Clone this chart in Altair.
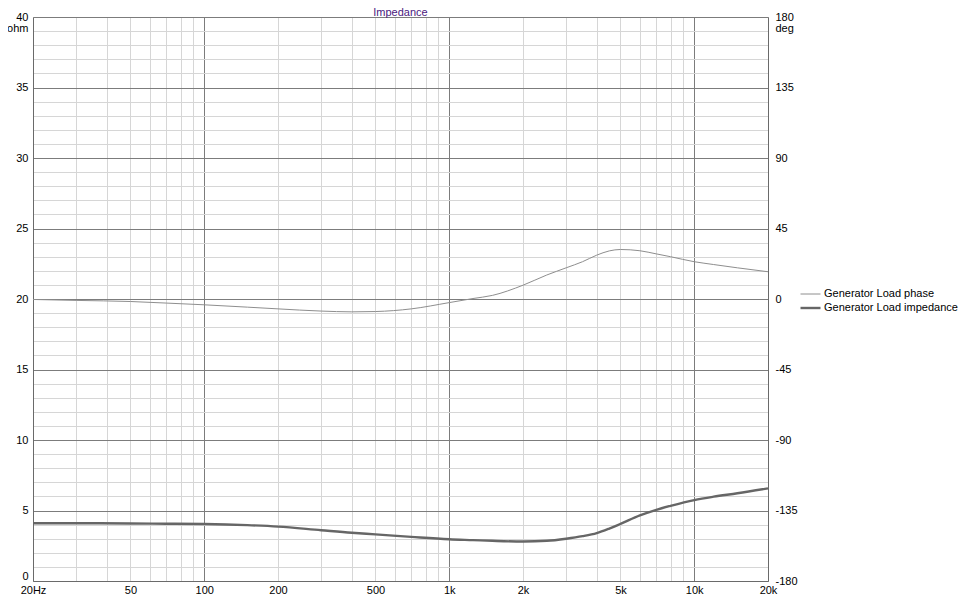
import altair as alt
import pandas as pd

# ---------------- data ----------------
freq = [20, 30, 50, 70, 100, 150, 200, 300, 400, 500, 700, 1000, 1250, 1500, 2000,
        2500, 3000, 3500, 4000, 4500, 5000, 6000, 7000, 8000, 10000, 12000, 15000, 20000]
impedance = [4.10, 4.10, 4.08, 4.06, 4.04, 3.96, 3.86, 3.60, 3.42, 3.31, 3.13, 2.96, 2.90, 2.85, 2.80,
             2.85, 3.00, 3.18, 3.40, 3.72, 4.05, 4.65, 5.05, 5.33, 5.74, 5.98, 6.22, 6.57]
phase = [-0.3, -0.9, -1.6, -2.6, -3.7, -5.2, -6.3, -7.7, -8.2, -8.0, -6.3, -2.3, 0.3, 2.3, 8.8,
         15.3, 19.9, 23.8, 28.0, 30.7, 31.6, 30.8, 28.8, 27.0, 23.8, 22.0, 19.9, 17.4]

series_names = ["Generator Load phase", "Generator Load impedance"]
series_colors = ["#8e8e8e", "#666666"]
series_widths = [1.0, 2.4]

x_grid_values = [20, 30, 40, 50, 60, 70, 80, 90,
                 100, 200, 300, 400, 500, 600, 700, 800, 900,
                 1000, 2000, 3000, 4000, 5000, 6000, 7000, 8000, 9000,
                 10000, 20000]
x_major = [100, 1000, 10000]
x_label_values = [20, 50, 100, 200, 500, 1000, 2000, 5000, 10000, 20000]
x_label_texts = ["20Hz", "50", "100", "200", "500", "1k", "2k", "5k", "10k", "20k"]
ohm_values = list(range(0, 41))
deg_values = [-180, -135, -90, -45, 0, 45, 90, 135, 180]

# ---------------- build chart ----------------
FONT = "Liberation Sans"
FRAME = "#6a6a6a"
MAJOR = "#7c7c7c"
MINOR = "#d6d6d6"

label_expr = " : ".join(
    f"datum.value == {v} ? '{t}'" for v, t in zip(x_label_values, x_label_texts)
) + " : ''"
major_test = "indexof([" + ",".join(str(v) for v in x_major) + "], datum.value) >= 0"

x_axis = alt.Axis(
    values=x_grid_values, labelExpr=label_expr, labelOverlap=False, title=None,
    grid=True, gridColor={"condition": {"test": major_test, "value": MAJOR}, "value": MINOR},
    ticks=False, domainColor=FRAME, labelPadding=3, labelFont=FONT, labelFontSize=11,
    labelColor="#000000", labelFlush=False,
)
x_enc = alt.X("freq:Q", scale=alt.Scale(type="log", domain=[20, 20000], nice=False), axis=x_axis)

legend = alt.Legend(
    title=None, orient="none", legendX=766, legendY=271, symbolType="stroke",
    symbolSize=400, labelFont=FONT, labelFontSize=11, labelColor="#000000",
    clipHeight=12, rowPadding=2, labelOffset=2, padding=0, symbolOpacity=1,
)
color_enc = alt.Color("series:N", scale=alt.Scale(domain=series_names, range=series_colors), legend=legend)
sw_enc = alt.StrokeWidth("series:N", scale=alt.Scale(type="ordinal", domain=series_names, range=series_widths), legend=legend)

imp_df = pd.DataFrame({"freq": freq, "value": impedance, "series": series_names[1]})
ph_df = pd.DataFrame({"freq": freq, "value": phase, "series": series_names[0]})

ohm_axis = alt.Axis(
    orient="left", values=ohm_values,
    labelExpr="datum.value % 5 == 0 ? datum.label : ''",
    grid=True, gridColor={"condition": {"test": "datum.value % 5 == 0", "value": MAJOR}, "value": MINOR},
    ticks=False, domainColor=FRAME, labelPadding=5, labelFont=FONT, labelFontSize=11,
    labelColor="#000000", labelOverlap=False,
    labelBaseline={"condition": {"test": "datum.value == 0", "value": "bottom"}, "value": "middle"},
    title="ohm", titleAngle=0, titleAlign="right", titleBaseline="middle", titleX=-5, titleY=11,
    titleFont=FONT, titleFontSize=11, titleFontWeight="normal", titleColor="#000000",
)
deg_axis = alt.Axis(
    orient="right", values=deg_values, grid=False, ticks=False, domainColor=FRAME,
    labelExpr="'' + datum.value",
    labelPadding=7, labelFont=FONT, labelFontSize=11, labelColor="#000000", labelOverlap=False,
    title="deg", titleAngle=0, titleAlign="left", titleBaseline="middle", titleX=7, titleY=11,
    titleFont=FONT, titleFontSize=11, titleFontWeight="normal", titleColor="#000000",
)

imp_line = alt.Chart(imp_df).mark_line(interpolate="monotone").encode(
    x=x_enc,
    y=alt.Y("value:Q", scale=alt.Scale(domain=[0, 40], nice=False), axis=ohm_axis),
    color=color_enc, strokeWidth=sw_enc,
)
ph_line = alt.Chart(ph_df).mark_line(interpolate="monotone").encode(
    x=x_enc,
    y=alt.Y("value:Q", scale=alt.Scale(domain=[-180, 180], nice=False), axis=deg_axis),
    color=color_enc, strokeWidth=sw_enc,
)

chart = alt.layer(imp_line, ph_line).resolve_scale(y="independent").properties(
    width=735, height=564,
    title=alt.Title("Impedance", font=FONT, fontSize=11, fontWeight="normal",
                    color="#4a2080", anchor="middle", baseline="alphabetic", offset=0, dy=16),
    autosize=alt.AutoSizeParams(type="none"),
    padding={"left": 25, "top": 9, "right": 193, "bottom": 14},
).configure_view(stroke=FRAME, strokeWidth=1).configure(background="white")

chart.save("out.html", embed_options={"renderer": "svg", "actions": False})
